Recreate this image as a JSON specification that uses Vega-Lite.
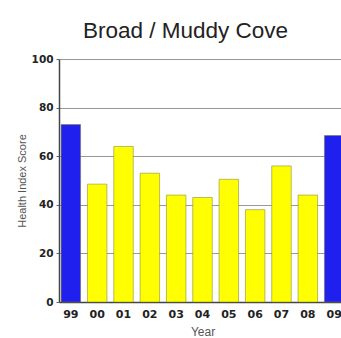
{
  "$schema": "https://vega.github.io/schema/vega-lite/v6.json",
  "autosize": "none",
  "width": 287,
  "height": 243,
  "padding": {"left": 59, "top": 59, "right": 0, "bottom": 36},
  "background": "white",
  "title": {
    "text": "Broad / Muddy Cove",
    "font": "Liberation Sans",
    "fontSize": 22.5,
    "fontWeight": "normal",
    "color": "#222222",
    "anchor": "middle",
    "dx": -17,
    "offset": 12
  },
  "data": {
    "values": [
      {"year": "99", "score": 73, "group": "ref"},
      {"year": "00", "score": 48.5, "group": "other"},
      {"year": "01", "score": 64, "group": "other"},
      {"year": "02", "score": 53, "group": "other"},
      {"year": "03", "score": 44, "group": "other"},
      {"year": "04", "score": 43, "group": "other"},
      {"year": "05", "score": 50.5, "group": "other"},
      {"year": "06", "score": 38, "group": "other"},
      {"year": "07", "score": 56, "group": "other"},
      {"year": "08", "score": 44, "group": "other"},
      {"year": "09", "score": 68.5, "group": "ref"}
    ]
  },
  "config": {"view": {"stroke": null}},
  "mark": {"type": "bar", "stroke": "#777733", "strokeWidth": 0.5},
  "encoding": {
    "x": {
      "field": "year",
      "type": "ordinal",
      "sort": null,
      "scale": {"paddingInner": 0.26, "paddingOuter": 0.08},
      "axis": {
        "title": "Year",
        "titleFont": "Liberation Sans",
        "titleFontSize": 12,
        "titleFontWeight": "normal",
        "titleColor": "#555555",
        "titlePadding": 7,
        "labelFont": "DejaVu Sans",
        "labelFontSize": 11,
        "labelFontWeight": "bold",
        "labelColor": "#222222",
        "labelAngle": 0,
        "labelPadding": 6,
        "ticks": false,
        "domainColor": "#444444",
        "domainWidth": 1.5
      }
    },
    "y": {
      "field": "score",
      "type": "quantitative",
      "scale": {"domain": [0, 100]},
      "axis": {
        "title": "Health Index Score",
        "titleFont": "Liberation Sans",
        "titleFontSize": 11,
        "titleFontWeight": "normal",
        "titleColor": "#555555",
        "titlePadding": 4,
        "values": [0, 20, 40, 60, 80, 100],
        "labelFont": "DejaVu Sans",
        "labelFontSize": 10.5,
        "labelFontWeight": "bold",
        "labelColor": "#222222",
        "labelPadding": 3,
        "tickSize": 3,
        "tickColor": "#666666",
        "gridColor": "#999999",
        "gridWidth": 1,
        "domainColor": "#444444",
        "domainWidth": 1.5
      }
    },
    "color": {
      "field": "group",
      "type": "nominal",
      "scale": {"domain": ["ref", "other"], "range": ["#1f1fee", "#ffff00"]},
      "legend": null
    }
  }
}
